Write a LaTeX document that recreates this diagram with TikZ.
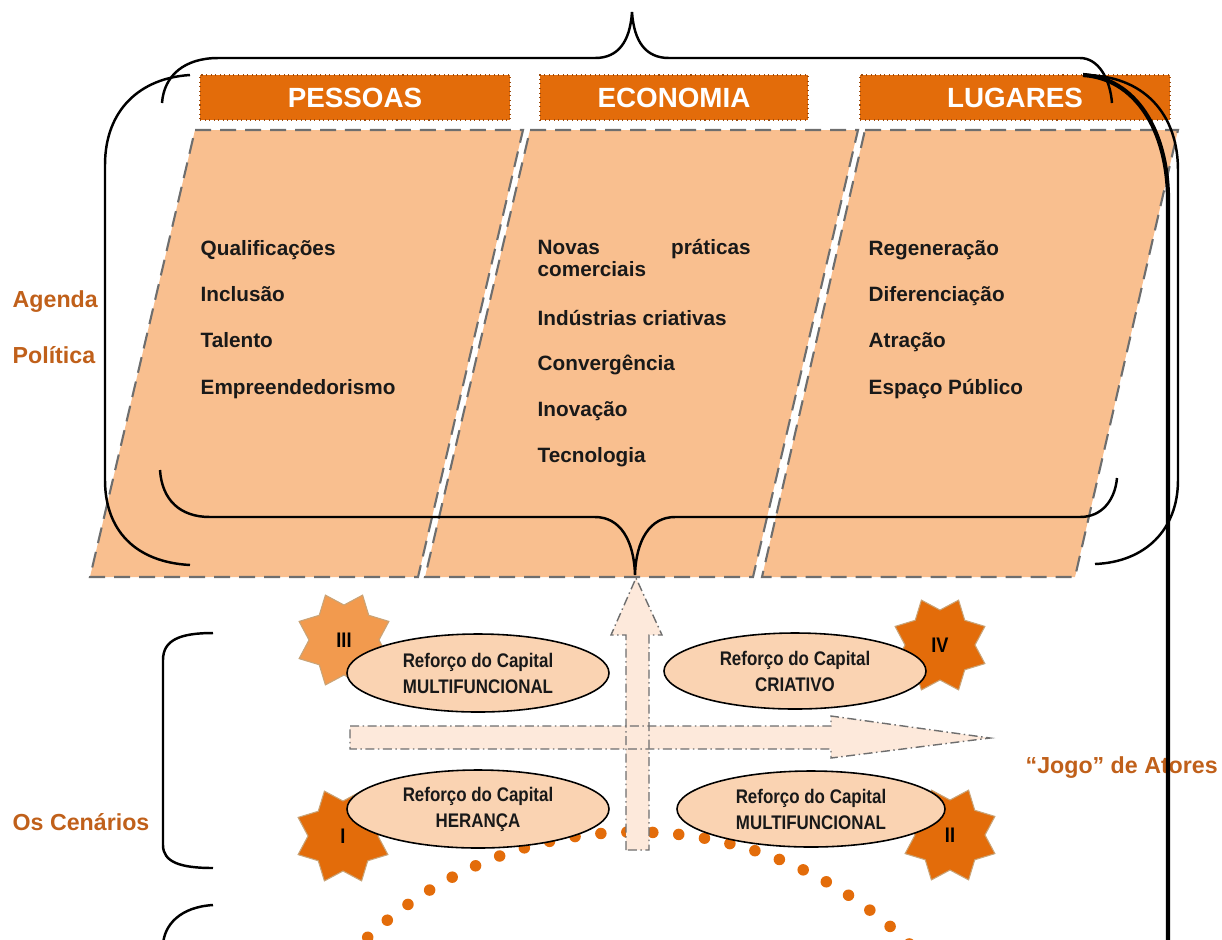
\documentclass[tikz,border=0pt]{standalone}
\usepackage{fontspec}
\setmainfont{Liberation Sans}
\newfontfamily\narrowfont[FakeStretch=0.86]{Liberation Sans}
\usetikzlibrary{shapes.geometric}
\definecolor{hdr}{HTML}{E36C0A}
\definecolor{hdrline}{HTML}{9C4A0C}
\definecolor{panel}{HTML}{F9BF8F}
\definecolor{ellfill}{HTML}{FAD3B2}
\definecolor{arrfill}{HTML}{FDE9DB}
\definecolor{lbl}{HTML}{C0601A}
\definecolor{starlight}{HTML}{F29A4E}
\definecolor{starline}{HTML}{C9A478}
\definecolor{dashgray}{HTML}{6E6E6E}
\definecolor{arcfill}{HTML}{FCE6D6}
\pgfdeclareradialshading{arcshade}{\pgfpoint{0bp}{0bp}}{color(0bp)=(white); color(34bp)=(white); color(50bp)=(arcfill)}
\begin{document}
\begin{tikzpicture}[x=0.1mm,y=-0.1mm,
  hdrbox/.style={fill=hdr, draw=hdrline, densely dotted, line width=0.3pt, text=white,
    font=\fontsize{7.9}{9}\selectfont\bfseries, minimum height=4.5mm, inner sep=0},
  panelbox/.style={fill=panel, draw=dashgray, dashed, dash pattern=on 1.6mm off 0.9mm, line width=0.6pt},
  ptxt/.style={anchor=base west, font=\fontsize{5.9}{6.5}\selectfont\bfseries, text=black!90, inner sep=0},
  sidelbl/.style={anchor=west, font=\fontsize{6.6}{8}\selectfont\bfseries, text=lbl, inner sep=0},
  brace/.style={draw=black, line width=0.7pt},
  capell/.style={ellipse, draw=black, line width=0.45pt, fill=ellfill, inner sep=0, align=center,
    font=\narrowfont\fontsize{5.6}{7.4}\selectfont\bfseries, text=black!90},
  starnode/.style={star, star points=8, star point ratio=0.72, minimum size=7mm, inner sep=0,
    draw=starline, line width=0.3pt, fill=hdr, font=\narrowfont\fontsize{6}{7}\selectfont\bfseries},
  arrowedge/.style={draw=dashgray, line width=0.4pt, dash pattern=on 0.9mm off 0.35mm on 0.15mm off 0.35mm}
]
\useasboundingbox (0,0) rectangle (1222,939);
\clip (0,0) rectangle (1222,939);

% header boxes
\node[hdrbox, minimum width=31mm] (hp) at (355,97.5) {PESSOAS};
\node[hdrbox, minimum width=26.8mm] (he) at (674,97.5) {ECONOMIA};
\node[hdrbox, minimum width=31mm] (hl) at (1015,97.5) {LUGARES};

% panels
\draw[panelbox] (195,130) -- (523,130) -- (418,577) -- (90,577) -- cycle;
\draw[panelbox] (530,130) -- (858,130) -- (753,577) -- (425,577) -- cycle;
\draw[panelbox] (865,130) -- (1178,130) -- (1075,577) -- (762,577) -- cycle;

% panel texts
\node[ptxt] (t11) at (200,255) {Qualificações};
\node[ptxt] (t12) at (200,301) {Inclusão};
\node[ptxt] (t13) at (200,347) {Talento};
\node[ptxt] (t14) at (200,394) {Empreendedorismo};

\node[ptxt] (t21) at (537,254) {\parbox[t]{21.3mm}{\fontsize{5.9}{6.5}\selectfont\bfseries Novas\hfill práticas\\comerciais}};
\node[ptxt] (t22) at (537,325) {Indústrias criativas};
\node[ptxt] (t23) at (537,370) {Convergência};
\node[ptxt] (t24) at (537,416) {Inovação};
\node[ptxt] (t25) at (537,462) {Tecnologia};

\node[ptxt] (t31) at (868,255) {Regeneração};
\node[ptxt] (t32) at (868,301) {Diferenciação};
\node[ptxt] (t33) at (868,347) {Atração};
\node[ptxt] (t34) at (868,394) {Espaço Público};

% side labels
\node[sidelbl] (ag) at (12,302) {Agenda};
\node[sidelbl] (po) at (12,355) {Política};
\node[sidelbl] (ce) at (12,822) {Os Cenários};
\node[sidelbl] (jo) at (1025,768) {“Jogo” de Atores};

% braces
\draw[brace] (162,103) .. controls (164,75) and (185,58) .. (218,58) -- (595,58)
  .. controls (618,58) and (630,42) .. (632,12) .. controls (634,42) and (646,58) .. (669,58)
  -- (1080,58) .. controls (1098,58) and (1110,78) .. (1112,103);
\draw[brace] (190,75) .. controls (140,78) and (105,110) .. (105,165) -- (105,480)
  .. controls (105,530) and (135,562) .. (190,565);
\draw[brace] (160,470) .. controls (162,500) and (180,517) .. (210,517) -- (595,517)
  .. controls (620,517) and (634,540) .. (635,575) .. controls (636,540) and (650,517) .. (675,517)
  -- (1080,517) .. controls (1102,517) and (1115,500) .. (1117,478);
\draw[brace] (1083,75) .. controls (1145,75) and (1178,115) .. (1178,170) -- (1178,480)
  .. controls (1178,530) and (1145,562) .. (1095,564);
\draw[brace] (213,633) .. controls (180,633) and (163,640) .. (163,660) -- (163,845)
  .. controls (163,862) and (180,868) .. (213,868);
\draw[brace] (213,905) .. controls (180,907) and (164,925) .. (163,945);

% dotted arc with pale shading
\shade[shading=arcshade] (635,1224) circle[radius=39.2mm];
\draw[draw=hdr, line width=1.15mm, line cap=round, dash pattern=on 0pt off 2.6mm] (635,1224) circle[radius=39.2mm];

% arrows
\fill[arrfill] (626,850) -- (626,635) -- (611,635) -- (636,578) -- (662,635) -- (649,635) -- (649,850) -- cycle;
\fill[arrfill] (350,726) -- (831,726) -- (831,716) -- (990,738) -- (831,758) -- (831,749) -- (350,749) -- cycle;
\draw[arrowedge] (626,850) -- (626,635) -- (611,635) -- (636,578) -- (662,635) -- (649,635) -- (649,850) -- cycle;
\draw[arrowedge] (350,726) -- (831,726) -- (831,716) -- (990,738) -- (831,758) -- (831,749) -- (350,749) -- cycle;

% stars
\node[starnode, fill=starlight] (s3) at (344,640) {III};
\node[starnode] (s4) at (940,645) {IV};
\node[starnode] (s1) at (343,836) {I};
\node[starnode] (s2) at (950,835) {II};

% ellipses
\node[capell, minimum width=26.2mm, minimum height=7.8mm] (e3) at (478,673) {Reforço do Capital\\MULTIFUNCIONAL};
\node[capell, minimum width=26.2mm, minimum height=7.6mm] (e4) at (795,671) {Reforço do Capital\\CRIATIVO};
\node[capell, minimum width=26.2mm, minimum height=7.8mm] (e1) at (478,809) {Reforço do Capital\\HERANÇA};
\node[capell, minimum width=26.8mm, minimum height=7.6mm] (e2) at (811,809) {Reforço do Capital\\MULTIFUNCIONAL};

% thick right line (over the label)
\draw[brace, line width=1.2pt] (1083,75) .. controls (1135,78) and (1168,130) .. (1168,200) -- (1168,945);
\end{tikzpicture}
\end{document}
